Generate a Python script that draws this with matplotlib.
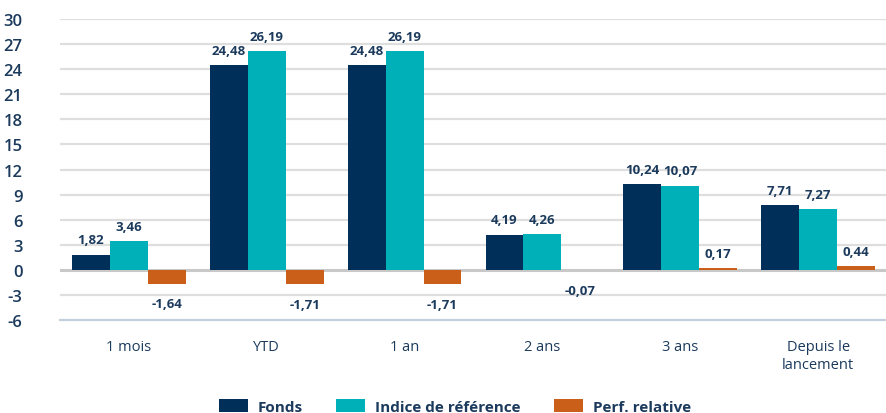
import matplotlib
matplotlib.use("Agg")
import matplotlib.pyplot as plt
import numpy as np
from matplotlib.patches import Patch

plt.rcParams['font.family'] = ['Open Sans', 'DejaVu Sans']

categories = ["1 mois", "YTD", "1 an", "2 ans", "3 ans", "Depuis le\nlancement"]
fonds = [1.82, 24.48, 24.48, 4.19, 10.24, 7.71]
indice = [3.46, 26.19, 26.19, 4.26, 10.07, 7.27]
perf = [-1.64, -1.71, -1.71, -0.07, 0.17, 0.44]
series_names = ["Fonds", "Indice de référence", "Perf. relative"]
yticks = list(range(-6, 31, 3))

colors = ["#00305a", "#00b0b9", "#c95f18"]
text_color = "#1b3a5c"

fig = plt.figure(figsize=(8.87, 4.14), dpi=100)
ax = fig.add_axes([0.0676, 0.2246, 0.9324, 0.7271])

x = np.arange(len(categories))
w = 0.275
for i, (vals, c) in enumerate(zip([fonds, indice, perf], colors)):
    pos = x + (i - 1) * w
    ax.bar(pos, vals, width=w, color=c, zorder=3, linewidth=0)
    for p, v in zip(pos, vals):
        lab = f"{v:.2f}".replace(".", ",")
        if v >= 0:
            ax.annotate(lab, (p, v), xytext=(0, 6), textcoords="offset points",
                        ha="center", va="bottom", fontsize=9.5, fontweight="bold", color=text_color)
        else:
            ax.annotate(lab, (p, v), xytext=(0, -10), textcoords="offset points",
                        ha="center", va="top", fontsize=9.5, fontweight="bold", color=text_color)

ax.set_xlim(-0.5, len(categories) - 0.5)
ax.set_ylim(-6, 30)
ax.set_yticks(yticks)
ax.set_yticklabels([str(t) for t in yticks], fontsize=12, color=text_color, fontweight="semibold")
ax.tick_params(axis="y", length=0, pad=27)
for lab in ax.get_yticklabels():
    lab.set_horizontalalignment("right")
ax.set_xticks(x)
ax.set_xticklabels(categories, fontsize=10.5, color=text_color)
ax.tick_params(axis="x", length=0, pad=14)

for t in yticks:
    if t == -6:
        continue
    col = "#c8c8c8" if t == 0 else "#dedede"
    lw = 2.2 if t == 0 else 1.6
    ax.axhline(t, color=col, lw=lw, zorder=1)

for s in ["top", "right", "left"]:
    ax.spines[s].set_visible(False)
ax.spines["bottom"].set_color("#c3cfdc")
ax.spines["bottom"].set_linewidth(1.6)

handles = [Patch(facecolor=c, edgecolor="none") for c in colors]
leg = fig.legend(handles, series_names, loc="lower center", bbox_to_anchor=(0.513, -0.035),
                 ncol=3, frameon=False, fontsize=11, handlelength=1.9, handleheight=0.85,
                 columnspacing=2.2, handletextpad=0.65)
for t in leg.get_texts():
    t.set_color(text_color)
    t.set_fontweight("bold")

fig.savefig("out.png", dpi=100)
